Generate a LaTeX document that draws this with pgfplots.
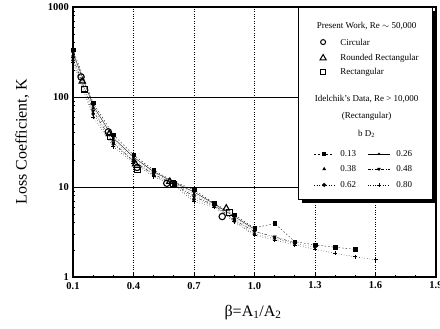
\documentclass[border=0pt]{standalone}
\usepackage{fontspec}
\setmainfont{Liberation Serif}
\usepackage{pgfplots}
\pgfplotsset{compat=1.18}
\usetikzlibrary{shapes.geometric}
\begin{document}
\begin{tikzpicture}
\begin{axis}[
  scale only axis, width=363bp, height=270bp,
  clip=false,
  xmin=0.1, xmax=1.9, ymode=log, ymin=1, ymax=1000,
  xtick={0.1,0.4,0.7,1.0,1.3,1.6,1.9},
  xticklabels={0.1,0.4,0.7,1.0,1.3,1.6,1.9},
  minor x tick num=2,
  ytick={1,10,100,1000}, yticklabels={1,10,100,1000},
  tick align=inside, tick pos=left,
  major tick length=4bp, minor tick length=2.5bp,
  axis line style={line width=1.1bp},
  tick style={line width=0.8bp, black},
  xmajorgrids, ymajorgrids,
  x grid style={black, dotted, line width=0.6bp},
  y grid style={black, line width=0.8bp},
  /pgf/number format/assume math mode=true,
  ticklabel style={font=\fontsize{10.5bp}{12bp}\selectfont\bfseries},
  xticklabel style={yshift=-1.5bp},
  yticklabel style={xshift=-0.5bp},
  xlabel={β=A\textsubscript{1}/A\textsubscript{2}},
  ylabel={Loss Coefficient, K},
  xlabel style={at={(axis description cs:0.496,-0.130)}, anchor=center, font=\fontsize{16bp}{18bp}\selectfont},
  ylabel style={at={(axis description cs:-0.140,0.5)}, anchor=center, rotate=0, font=\fontsize{16bp}{18bp}\selectfont},
]
% Idelchik data
\addplot[black, line width=0.35bp, dash pattern=on 1.5bp off 2bp, mark=square*, mark size=1.7bp, mark options={solid}] coordinates {
(0.1,334) (0.2,86) (0.3,38) (0.4,22.7) (0.5,15.4) (0.6,11.5) (0.7,9.3) (0.8,6.6) (0.9,4.9) (1.0,3.5) (1.1,3.95) (1.2,2.47) (1.3,2.27) (1.4,2.14) (1.5,2.03)};
\addplot[black, line width=0.35bp, mark=*, mark size=1.3bp] coordinates {
(0.1,310) (0.2,80) (0.3,35) (0.4,21.5) (0.5,14.8) (0.6,11.3) (0.7,8.8) (0.8,6.5) (0.9,4.7) (1.0,3.4)};
\addplot[black, line width=0.3bp, dash pattern=on 0.5bp off 2.5bp, mark=triangle*, mark size=1.9bp, mark options={solid}] coordinates {
(0.1,290) (0.2,75) (0.3,33) (0.4,20.5) (0.5,14.3) (0.6,11.1) (0.7,8.3) (0.8,6.4) (0.9,4.5) (1.0,3.3)};
\addplot[black, line width=0.35bp, dash pattern=on 3bp off 1.5bp on 0.8bp off 1.5bp, mark=triangle*, mark size=1.9bp, mark options={solid, rotate=180}] coordinates {
(0.1,270) (0.2,70) (0.3,31) (0.4,19.5) (0.5,13.8) (0.6,10.9) (0.7,7.8) (0.8,6.3) (0.9,4.3) (1.0,3.2) (1.1,2.8) (1.2,2.4)};
\addplot[black, line width=0.35bp, dash pattern=on 0.6bp off 2bp, mark=diamond*, mark size=2.1bp, mark options={solid}] coordinates {
(0.1,255) (0.2,65) (0.3,30) (0.4,19) (0.5,13.4) (0.6,10.7) (0.7,7.3) (0.8,6.2) (0.9,4.2) (1.0,3.0) (1.1,2.7) (1.2,2.35) (1.3,2.15)};
\addplot[black, line width=0.35bp, dash pattern=on 0.6bp off 2bp, mark=+, mark size=2bp, mark options={solid, line width=0.8bp}] coordinates {
(0.1,240) (0.2,60) (0.3,28) (0.4,18.5) (0.5,13) (0.6,10.5) (0.7,6.9) (0.8,6.0) (0.9,4.1) (1.0,2.9) (1.1,2.58) (1.2,2.27) (1.3,2.03) (1.4,1.83) (1.5,1.68) (1.6,1.55)};
% Present work
\addplot[only marks, black, mark=o, mark size=3.2bp, mark options={line width=1.1bp}] coordinates {
(0.14,167) (0.275,41) (0.418,16.5) (0.565,11) (0.84,4.7)};
\addplot[only marks, black, mark=triangle, mark size=3.6bp, mark options={line width=1.1bp}] coordinates {
(0.146,150) (0.28,39) (0.41,18) (0.58,11.5) (0.86,5.8)};
\addplot[only marks, black, mark=square, mark size=2.8bp, mark options={line width=1.1bp}] coordinates {
(0.156,122) (0.283,36) (0.421,15.4) (0.597,10.8) (0.875,5.2)};
% legend box
\fill[black] (rel axis cs:0.631,0.274) rectangle (rel axis cs:1.003,0.985);
\draw[black, line width=0.8bp, fill=white] (rel axis cs:0.620,0.289) rectangle (rel axis cs:0.989,1.0);
\begin{scope}[font=\fontsize{9bp}{10bp}\selectfont]
\node at (rel axis cs:0.809,0.930) {Present Work, Re $\sim$ 50,000};
\node[draw, circle, line width=1bp, minimum size=5bp, inner sep=0pt] at (rel axis cs:0.689,0.870) {};
\node[anchor=west] at (rel axis cs:0.727,0.870) {Circular};
\node[draw, regular polygon, regular polygon sides=3, line width=1bp, minimum size=7bp, inner sep=0pt] at (rel axis cs:0.689,0.811) {};
\node[anchor=west] at (rel axis cs:0.727,0.811) {Rounded Rectangular};
\node[draw, rectangle, line width=1bp, minimum size=5bp, inner sep=0pt] at (rel axis cs:0.689,0.759) {};
\node[anchor=west] at (rel axis cs:0.727,0.759) {Rectangular};
\node at (rel axis cs:0.809,0.659) {Idelchik's Data, Re > 10,000};
\node at (rel axis cs:0.809,0.596) {(Rectangular)};
\node at (rel axis cs:0.809,0.530) {b D\textsubscript{2}};
% row 1
\draw[line width=0.5bp, dash pattern=on 2bp off 2bp] (rel axis cs:0.664,0.456) -- (rel axis cs:0.719,0.456);
\node[fill=black, rectangle, minimum size=3.4bp, inner sep=0pt] at (rel axis cs:0.692,0.456) {};
\node[anchor=west] at (rel axis cs:0.727,0.456) {0.13};
\draw[line width=0.5bp] (rel axis cs:0.812,0.456) -- (rel axis cs:0.873,0.456);
\node[fill=black, circle, minimum size=2.6bp, inner sep=0pt] at (rel axis cs:0.843,0.456) {};
\node[anchor=west] at (rel axis cs:0.881,0.456) {0.26};
% row 2
\node[fill=black, regular polygon, regular polygon sides=3, minimum size=4.5bp, inner sep=0pt] at (rel axis cs:0.692,0.400) {};
\node[anchor=west] at (rel axis cs:0.727,0.400) {0.38};
\draw[line width=0.5bp, dash pattern=on 3bp off 1.5bp on 0.8bp off 1.5bp] (rel axis cs:0.812,0.400) -- (rel axis cs:0.873,0.400);
\node[fill=black, regular polygon, regular polygon sides=3, shape border rotate=180, minimum size=4.5bp, inner sep=0pt] at (rel axis cs:0.843,0.400) {};
\node[anchor=west] at (rel axis cs:0.881,0.400) {0.48};
% row 3
\draw[line width=0.5bp, dotted] (rel axis cs:0.664,0.341) -- (rel axis cs:0.719,0.341);
\node[fill=black, diamond, minimum size=4.5bp, inner sep=0pt] at (rel axis cs:0.692,0.341) {};
\node[anchor=west] at (rel axis cs:0.727,0.341) {0.62};
\draw[line width=0.5bp, dotted] (rel axis cs:0.812,0.341) -- (rel axis cs:0.873,0.341);
\draw[line width=0.8bp] (rel axis cs:0.837,0.341) -- (rel axis cs:0.849,0.341);
\draw[line width=0.8bp] ([yshift=-2bp]rel axis cs:0.843,0.341) -- ([yshift=2bp]rel axis cs:0.843,0.341);
\node[anchor=west] at (rel axis cs:0.881,0.341) {0.80};
\end{scope}
\coordinate (bbl) at (rel axis cs:0,0);
\coordinate (btr) at (rel axis cs:1,1);
\end{axis}
\pgfresetboundingbox
\path ([xshift=-73bp,yshift=-52bp]bbl) rectangle ([xshift=4bp,yshift=7bp]btr);
\end{tikzpicture}
\end{document}
